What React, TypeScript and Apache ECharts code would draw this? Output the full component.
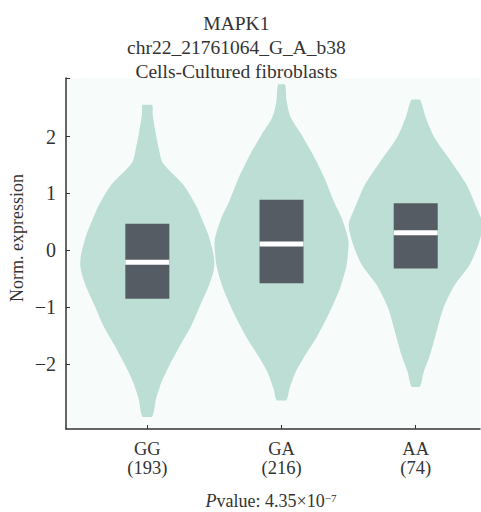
import React, { useEffect, useRef } from "react";
import * as echarts from "echarts";

const categories = ["GG", "GA", "AA"];
const sampleSizes = [193, 216, 74];
const q1 = [-0.85, -0.58, -0.32];
const medians = [-0.21, 0.11, 0.31];
const q3 = [0.47, 0.89, 0.83];

// violin outlines: expression levels (top to bottom) and relative half-widths
const ggLevels = [2.56, 2.39, 2.03, 1.74, 1.56, 1.39, 1.15, 0.8, 0.56, 0.27, -0.09, -0.26, -0.44, -0.67, -0.96, -1.31, -1.67, -2.02, -2.32, -2.61, -2.93];
const ggWidths = [0.07, 0.08, 0.13, 0.18, 0.22, 0.34, 0.54, 0.72, 0.81, 0.91, 0.99, 1.0, 0.97, 0.9, 0.79, 0.66, 0.49, 0.33, 0.21, 0.13, 0.07];
const gaLevels = [2.92, 2.62, 2.33, 2.03, 1.68, 1.27, 0.86, 0.56, 0.15, -0.26, -0.67, -1.08, -1.49, -1.85, -2.14, -2.43, -2.64];
const gaWidths = [0.05, 0.075, 0.14, 0.3, 0.47, 0.64, 0.78, 0.9, 1.0, 0.97, 0.87, 0.72, 0.54, 0.35, 0.21, 0.12, 0.07];
const aaLevels = [2.65, 2.33, 1.98, 1.56, 1.15, 0.74, 0.45, 0.09, -0.26, -0.61, -1.02, -1.43, -1.85, -2.14, -2.4];
const aaWidths = [0.06, 0.15, 0.28, 0.53, 0.76, 0.91, 1.0, 0.93, 0.8, 0.58, 0.41, 0.31, 0.21, 0.12, 0.06];

const yTicks = [-2, -1, 0, 1, 2];
const yMin = -3.14;
const yMax = 3.03;

const violinLevels = [ggLevels, gaLevels, aaLevels];
const violinWidths = [ggWidths, gaWidths, aaWidths];

const FONT = "'Liberation Serif', 'Times New Roman', serif";
const HALF = 0.5;
const BOX_HALF = 0.164;

export default function App() {
  const ref = useRef<HTMLDivElement>(null);
  useEffect(() => {
    if (!ref.current) return;
    const chart = echarts.init(ref.current, null, { renderer: "svg" });
    const option: any = {
      animation: false,
      backgroundColor: "#ffffff",
      grid: {
        left: 66,
        right: 1,
        top: 78,
        bottom: 83,
        show: true,
        backgroundColor: "#f7fcfb",
        borderWidth: 0,
      },
      xAxis: {
        type: "value",
        min: -0.606,
        max: 2.479,
        splitLine: { show: false },
        axisLine: { show: true, onZero: false, lineStyle: { color: "#333", width: 1.5 } },
        axisTick: { show: true, inside: true, length: 4, customValues: [0, 1, 2], lineStyle: { color: "#333" } },
        axisLabel: {
          customValues: [0, 1, 2],
          formatter: (v: number) => `${categories[Math.round(v)]}\n(${sampleSizes[Math.round(v)]})`,
          fontFamily: FONT,
          fontSize: 18.5,
          lineHeight: 18.5,
          color: "#333",
          margin: 11,
        },
      },
      yAxis: {
        type: "value",
        min: yMin,
        max: yMax,
        splitLine: { show: false },
        axisLine: { show: true, onZero: false, lineStyle: { color: "#333", width: 1.5 } },
        axisTick: { show: true, inside: true, length: 4, customValues: [...yTicks, yMax], lineStyle: { color: "#333" } },
        axisLabel: {
          customValues: yTicks,
          formatter: (v: number) => String(v).replace("-", "\u2212"),
          fontFamily: FONT,
          fontSize: 20,
          color: "#333",
          margin: 10,
        },
      },
      graphic: [
        {
          type: "text",
          left: 277 - 150,
          top: 11,
          style: {
            text: "MAPK1\nchr22_21761064_G_A_b38\nCells-Cultured fibroblasts",
            x: 150,
            textAlign: "center",
            font: `19.5px ${FONT}`,
            lineHeight: 24,
            fill: "#333",
          },
        },
        {
          type: "text",
          x: 17,
          y: 238,
          rotation: Math.PI / 2,
          style: {
            text: "Norm. expression",
            textAlign: "center",
            textVerticalAlign: "middle",
            font: `18px ${FONT}`,
            fill: "#333",
          },
        },
        {
          type: "text",
          x: 271,
          y: 501,
          style: {
            text: "{i|P}{n|value: 4.35×10}{s|\u22127}",
            textAlign: "center",
            textVerticalAlign: "middle",
            fill: "#333",
            rich: {
              i: { fontFamily: FONT, fontSize: 18, fontStyle: "italic", fill: "#333", verticalAlign: "bottom" },
              n: { fontFamily: FONT, fontSize: 18, fill: "#333", verticalAlign: "bottom" },
              s: { fontFamily: FONT, fontSize: 11, fill: "#333", verticalAlign: "top" },
            },
          },
        },
      ],
      series: [
        {
          type: "custom",
          name: "violin",
          data: categories.map((_, i) => [i, medians[i]]),
          renderItem: (params: any, api: any) => {
            const i = params.dataIndex;
            const lv = violinLevels[i];
            const wd = violinWidths[i];
            const right = lv.map((v, k) => api.coord([i + wd[k] * HALF, v]));
            const left = lv.map((v, k) => api.coord([i - wd[k] * HALF, v])).reverse();
            const pts = [...right, ...left];
            let minX = Infinity, minY = Infinity, maxX = -Infinity, maxY = -Infinity;
            pts.forEach((p: number[]) => {
              minX = Math.min(minX, p[0]);
              minY = Math.min(minY, p[1]);
              maxX = Math.max(maxX, p[0]);
              maxY = Math.max(maxY, p[1]);
            });
            return {
              type: "polygon",
              shape: { points: pts, smooth: 0.25, smoothConstraint: [[minX, minY], [maxX, maxY]] },
              style: { fill: "#bcded5" },
            };
          },
        },
        {
          type: "custom",
          name: "box",
          data: categories.map((_, i) => [i, medians[i]]),
          renderItem: (params: any, api: any) => {
            const i = params.dataIndex;
            const tl = api.coord([i - BOX_HALF, q3[i]]);
            const br = api.coord([i + BOX_HALF, q1[i]]);
            const ml = api.coord([i - BOX_HALF, medians[i]]);
            const mr = api.coord([i + BOX_HALF, medians[i]]);
            return {
              type: "group",
              children: [
                {
                  type: "rect",
                  shape: { x: tl[0], y: tl[1], width: br[0] - tl[0], height: br[1] - tl[1] },
                  style: { fill: "#565c64" },
                },
                {
                  type: "line",
                  shape: { x1: ml[0], y1: ml[1], x2: mr[0], y2: mr[1] },
                  style: { stroke: "#ffffff", lineWidth: 5 },
                },
              ],
            };
          },
        },
      ],
    };
    chart.setOption(option);
    return () => chart.dispose();
  }, []);
  return <div ref={ref} style={{ width: 481, height: 512, position: "absolute", left: 0, top: 0 }} />;
}
